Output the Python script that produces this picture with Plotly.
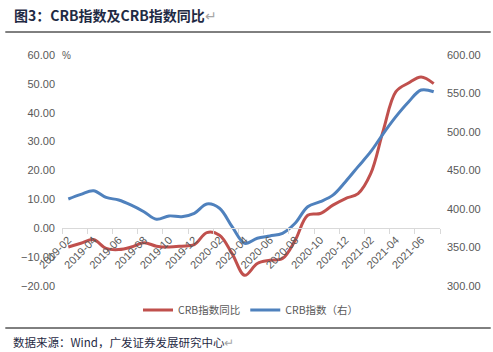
import plotly.graph_objects as go

months = ["2019-02","2019-03","2019-04","2019-05","2019-06","2019-07","2019-08","2019-09",
          "2019-10","2019-11","2019-12","2020-01","2020-02","2020-03","2020-04","2020-05",
          "2020-06","2020-07","2020-08","2020-09","2020-10","2020-11","2020-12","2021-01",
          "2021-02","2021-03","2021-04","2021-05","2021-06","2021-07"]
crb_yoy = [-6.5, -5.2, -3.9, -7.0, -7.4, -6.5, -5.0, -6.2, -6.5, -6.2, -5.7, -1.5,
           -2.4, -8.8, -16.3, -12.2, -11.1, -10.5, -4.2, 4.5, 5.1, 8.0, 10.3, 12.0,
           18.9, 33.9, 47.3, 50.3, 52.4, 50.1]
crb_index = [413, 419, 423.8, 415, 411.7, 405, 396.5, 386.6, 391, 390, 394.4, 406.5,
             401, 377, 355.4, 362, 365, 368.4, 381.4, 403, 409.5, 418, 435.5, 455,
             474.4, 498, 520, 539, 554.5, 552.3]

x = list(range(len(months)))
label_idx = list(range(0, len(months), 2))

RED = "#C0504D"
BLUE = "#4F81BD"
GREY = "#595959"

fig = go.Figure()
fig.add_trace(go.Scatter(x=x, y=crb_yoy, name="CRB指数同比", mode="lines",
                         line=dict(color=RED, width=3, shape="spline"), yaxis="y"))
fig.add_trace(go.Scatter(x=x, y=crb_index, name="CRB指数（右）", mode="lines",
                         line=dict(color=BLUE, width=3, shape="spline"), yaxis="y2"))

L, R, T, B = 62, 51, 55, 66
W, H = 493, 352
pw, ph = W - L - R, H - T - B

def px(xp):
    return (xp - L) / pw

def py(yp):
    return (H - B - yp) / ph

fig.update_layout(
    width=W, height=H,
    margin=dict(l=L, r=R, t=T, b=B),
    paper_bgcolor="white", plot_bgcolor="white",
    font=dict(family="Liberation Sans, Arial, sans-serif", size=11, color=GREY),
    xaxis=dict(
        range=[-0.5, len(months) - 0.5],
        tickvals=[months.index(months[i]) for i in label_idx],
        ticktext=[months[i] for i in label_idx],
        tickangle=-45,
        anchor="free", position=0.25,
        showline=True, linecolor="#D9D9D9", linewidth=1,
        showgrid=False, zeroline=False,
        ticks="",
        minor=dict(tickvals=[i - 0.5 for i in range(0, len(months) + 1, 2)],
                   ticks="outside", ticklen=5, tickcolor="#D9D9D9", showgrid=False),
        tickfont=dict(size=11, color=GREY),
    ),
    yaxis=dict(
        range=[-20, 60], dtick=10, tickformat=".2f",
        showgrid=False, zeroline=False, showline=False,
        ticks="", ticklabelstandoff=6,
        tickfont=dict(size=11, color=GREY),
    ),
    yaxis2=dict(
        range=[300, 600], dtick=50, tickformat=".2f",
        overlaying="y", side="right",
        showgrid=False, zeroline=False, showline=False,
        ticks="", ticklabelstandoff=6,
        tickfont=dict(size=11, color=GREY),
    ),
    legend=dict(
        orientation="h", x=0.5, xanchor="center", y=py(310), yanchor="middle",
        font=dict(family="Noto Sans CJK SC", size=10.5, color=GREY),
        itemwidth=30, bgcolor="rgba(0,0,0,0)",
    ),
    showlegend=True,
)

fig.add_annotation(
    text="<b>图3：CRB指数及CRB指数同比</b><span style='color:#A6A6A6'>↵</span>",
    xref="paper", yref="paper", x=px(12), y=py(15), xanchor="left", yanchor="middle",
    showarrow=False, font=dict(family="Noto Sans CJK SC", size=14, color="#1F2A44"),
)
fig.add_annotation(
    text="数据来源：Wind，广发证券发展研究中心<span style='color:#A6A6A6'>↵</span>",
    xref="paper", yref="paper", x=px(11), y=py(342), xanchor="left", yanchor="middle",
    showarrow=False, font=dict(family="Noto Sans CJK SC", size=11.5, color="#1F2A44"),
)
fig.add_annotation(
    text="%", xref="paper", yref="paper", x=px(60), y=py(55), xanchor="left", yanchor="middle",
    showarrow=False, font=dict(size=10, color=GREY),
)
for yl in (32, 328):
    fig.add_shape(type="line", xref="paper", yref="paper",
                  x0=px(5), x1=px(493), y0=py(yl), y1=py(yl),
                  line=dict(color="black", width=1))

fig.write_html("out.html")
